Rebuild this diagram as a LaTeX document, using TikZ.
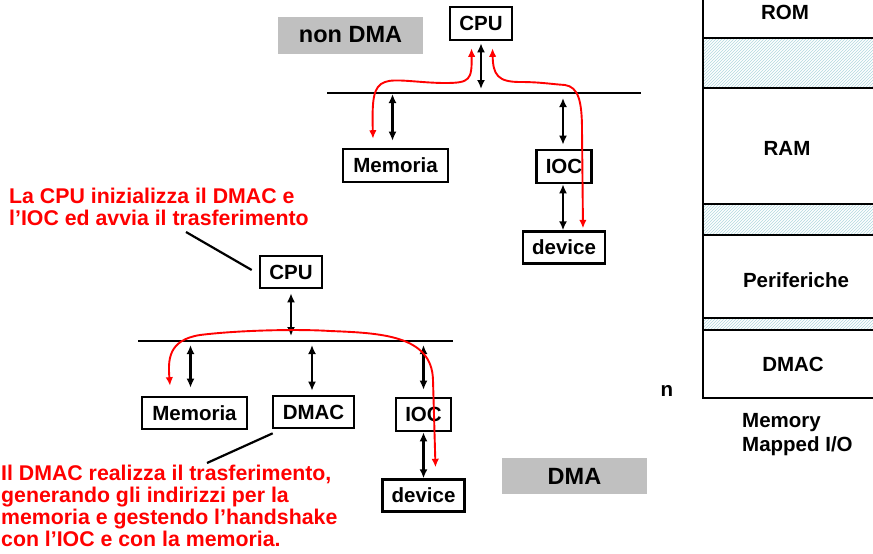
\documentclass[tikz,border=0pt]{standalone}
\usepackage{fontspec}
\setmainfont{Liberation Sans}
\usepackage{xcolor}
\usepackage{tikz}
\usetikzlibrary{arrows.meta,positioning,calc,patterns}
\definecolor{hatchblue}{HTML}{B2D9DF}
\definecolor{labelgray}{HTML}{C0C0C0}
\definecolor{notered}{HTML}{FF0000}

\begin{document}
\begin{tikzpicture}[x=1pt,y=-1pt,font=\bfseries\fontsize{20.5}{24}\selectfont,>=Latex]
\tikzset{box/.style={draw,line width=2.6pt,fill=white,inner sep=0pt,minimum height=33pt},
 link/.style={{Latex[length=9pt,width=8pt]}-{Latex[length=9pt,width=8pt]},line width=2.3pt},
 flow/.style={{Latex[length=8.5pt,width=7.5pt]}-{Latex[length=8.5pt,width=7.5pt]},line width=1.9pt,color=notered},
 bus/.style={line width=2.5pt},
 note/.style={text=notered,align=left,inner sep=0pt,font=\bfseries\fontsize{21.3}{21.8}\selectfont},
 tag/.style={fill=labelgray,inner sep=0pt,minimum width=145pt,minimum height=37pt,font=\bfseries\fontsize{23.5}{26}\selectfont},
 hatch/.style={pattern=north east lines,pattern color=hatchblue}}
\useasboundingbox (0,0) rectangle (873,554);
\clip (0,0) rectangle (873,554);
\fill[white] (0,0) rectangle (873,554);
\fill[hatch] (703,38) rectangle (880,88);
\fill[hatch] (703,204) rectangle (880,235);
\fill[hatch] (703,318) rectangle (880,330);
\draw[bus] (703,-5) -- (703,398) -- (880,398);
\foreach \y in {38,88,204,235,318,330} \draw[bus] (703,\y) -- (880,\y);
\node (rom) at (785,12) {ROM};
\node (ram) at (787,148) {RAM};
\node (periph) at (796,280) {Periferiche};
\node (dmacmap) at (793,364) {DMAC};
\node (addrn) at (667,391) {n};
\node[align=left,inner sep=0pt,anchor=north west] (memlabel) at (742,413) {Memory\\Mapped I/O};
\node[tag] (nondma) at (350.5,35) {non DMA};
\node[tag,minimum height=36pt] (dma) at (574.5,476) {DMA};
\coordinate (busAl) at (327,93);
\coordinate (busAr) at (641,93);
\coordinate (busBl) at (138,341);
\coordinate (busBr) at (453,341);
\draw[bus] (busAl) -- (busAr);
\draw[bus] (busBl) -- (busBr);
\node[box,minimum width=62pt] (cpuA) at (481,23.5) {CPU};
\node[box,minimum width=105pt] (memA) at (395.5,165.5) {Memoria};
\node[box,minimum width=55pt] (iocA) at (564,166.5) {IOC};
\node[box,minimum width=82pt,minimum height=32pt,below=46pt of iocA] (devA) {device};
\node[box,minimum width=62pt,minimum height=32pt] (cpuB) at (291,272) {CPU};
\node[box,minimum width=105pt,minimum height=32pt] (memB) at (194.5,413) {Memoria};
\node[box,minimum width=81pt,minimum height=32pt] (dmacB) at (313.5,412) {DMAC};
\node[box,minimum width=55pt] (iocB) at (423.5,414.5) {IOC};
\node[box,minimum width=82pt,minimum height=32pt,below=46pt of iocB] (devB) {device};
\draw[link] ([yshift=-2pt]cpuA.south) -- ($(cpuA.south|-busAl)+(0,-4)$);
\draw[link] ($(memA.north|-busAl)+(-3,1)$) -- ([xshift=-3pt,yshift=7pt]memA.north);
\draw[link] ($(iocA.north|-busAl)+(-1,5)$) -- ([xshift=-1pt,yshift=4pt]iocA.north);
\draw[link] ([xshift=-1pt]iocA.south) -- ([xshift=-1pt]iocA.south|-devA.north);
\draw[link] ([yshift=-4pt]cpuB.south) -- ($(cpuB.south|-busBl)+(0,-5)$);
\draw[link] ($(memB.north|-busBl)+(-4,4)$) -- ([xshift=-4pt,yshift=8pt]memB.north);
\draw[link] ($(dmacB.north|-busBl)+(-1.5,4)$) -- ([xshift=-1.5pt,yshift=4pt]dmacB.north);
\draw[link] ($(iocB.north|-busBl)+(0,4)$) -- ([yshift=7pt]iocB.north);
\draw[link] (iocB.south) -- (iocB.south|-devB.north);
\draw[flow] ([xshift=-9.5pt,yshift=-7pt]cpuA.south) .. controls (472,80) and (470,83) .. (445,83) .. controls (420,83) and (395,78) .. (385,82) .. controls (373,86) and (372,100) .. ([xshift=-22.5pt,yshift=9pt]memA.north);
\draw[flow] ([xshift=11.5pt,yshift=-7pt]cpuA.south) .. controls (493,75) and (498,82) .. (520,82) .. controls (540,82) and (550,84) .. (565,85) .. controls (578,87) and (582,100) .. (582,130) -- ([xshift=19pt,yshift=2pt]devA.north);
\draw[flow] ([xshift=-24.5pt,yshift=10pt]memB.north) .. controls (168,360) and (168,340) .. (200,335) .. controls (240,330) and (300,329) .. (330,331) .. controls (380,333) and (432,335) .. (433,380) -- ([xshift=12pt,yshift=11pt]devB.north);
\node[note,anchor=north west] (initnote) at (9,188) {La CPU inizializza il DMAC e\\l’IOC ed avvia il trasferimento};
\node[note,anchor=north west] (dmacnote) at (1,465) {Il DMAC realizza il trasferimento,\\generando gli indirizzi per la\\memoria e gestendo l’handshake\\con l’IOC e con la memoria.};
\draw[line width=2.2pt] ($(initnote.north west)+(177,44)$) -- ($(cpuB.west)+(-7,-2)$);
\draw[line width=2.2pt] ($(dmacnote.north west)+(206,-2)$) -- ($(dmacB.south west)+(1,4)$);
\end{tikzpicture}
\end{document}
